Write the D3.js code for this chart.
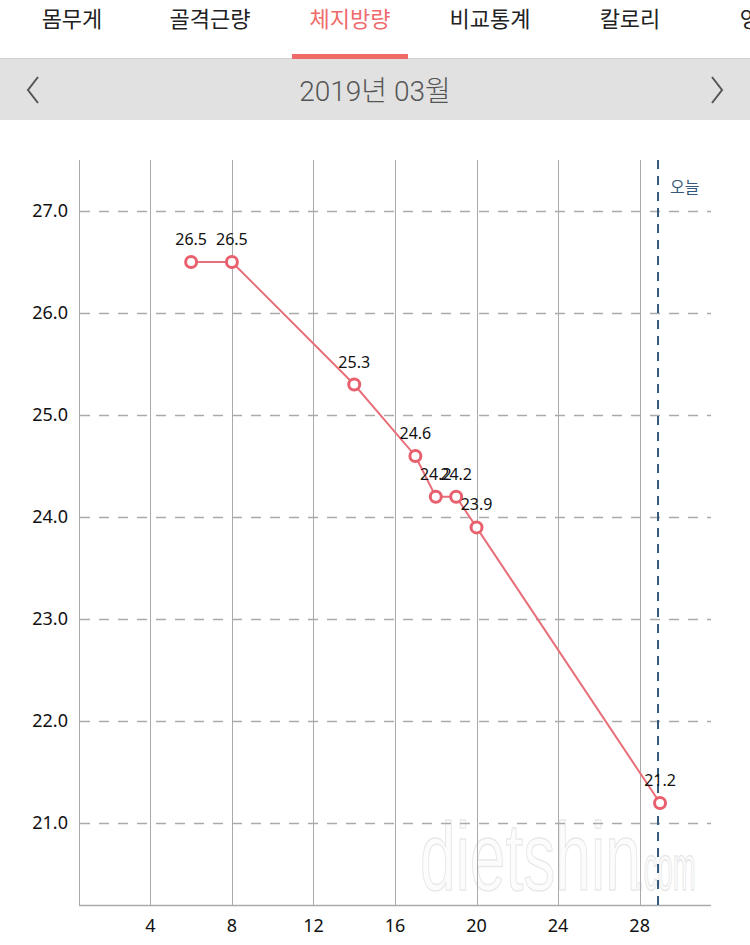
<!DOCTYPE html>
<html><head><meta charset="utf-8">
<script src="https://cdn.jsdelivr.net/npm/d3@7"></script>
<style>
html,body{margin:0;padding:0;background:#fff;}
svg{display:block;font-family:"Noto Sans CJK KR","Noto Sans",sans-serif;}
</style></head>
<body>
<script>
const tabs = ["몸무게","골격근량","체지방량","비교통계","칼로리","영양"];
const tabX = [72, 210, 350, 490, 630, 760];
const activeTab = 2;
const monthLabel = "2019년 03월";
const days = [6, 8, 14, 17, 18, 19, 20, 29];
const values = [26.5, 26.5, 25.3, 24.6, 24.2, 24.2, 23.9, 21.2];
const xTicks = [4, 8, 12, 16, 20, 24, 28];
const yTicks = [21.0, 22.0, 23.0, 24.0, 25.0, 26.0, 27.0];
const todayDay = 29;
const todayLabel = "오늘";

const W = 750, H = 945;
const svg = d3.select("body").append("svg").attr("width", W).attr("height", H);

// header
svg.append("rect").attr("x",0).attr("y",0).attr("width",W).attr("height",58).attr("fill","#fff");
svg.append("rect").attr("x",0).attr("y",58).attr("width",W).attr("height",62).attr("fill","#e1e1e1");
svg.append("line").attr("x1",0).attr("x2",W).attr("y1",58.5).attr("y2",58.5).attr("stroke","#cfcfcf");
svg.selectAll("text.tab").data(tabs).join("text").attr("class","tab")
  .attr("x",(d,i)=>tabX[i]).attr("y",27).attr("text-anchor","middle")
  .attr("font-size",22).attr("fill",(d,i)=>i===activeTab?"#ef6b6b":"#222").text(d=>d);
svg.append("rect").attr("x",292).attr("y",54).attr("width",116).attr("height",5).attr("fill","#f06a6a");
svg.append("text").attr("x",375).attr("y",101).attr("text-anchor","middle")
  .attr("font-size",28).attr("fill","#555").attr("font-family","Roboto, 'Noto Sans CJK KR', sans-serif")
  .style("font-weight",300).text(monthLabel);
svg.append("path").attr("d","M38,77 L28,90 L38,103").attr("fill","none").attr("stroke","#555").attr("stroke-width",2);
svg.append("path").attr("d","M712,77 L722,90 L712,103").attr("fill","none").attr("stroke","#555").attr("stroke-width",2);

// chart
const x = d3.scaleLinear().domain([0.5, 31.5]).range([79, 711]);
const y = d3.scaleLinear().domain([20.2, 27.5]).range([905, 160]);
const g = svg.append("g");

// watermark
g.append("text").attr("transform","translate(420,890) scale(0.89,1.35)").attr("font-size",72)
  .attr("font-family","'Liberation Sans',sans-serif")
  .attr("fill","#fcfcfc").attr("stroke","#e8e8e8").attr("stroke-width",1).text("dietshin");
g.append("text").attr("transform","translate(636,890) scale(0.69,1.6)").attr("font-size",40)
  .attr("font-family","'Liberation Sans',sans-serif")
  .attr("fill","#fcfcfc").attr("stroke","#e8e8e8").attr("stroke-width",1).text(".com");

// vertical grid
g.selectAll("line.vg").data(xTicks).join("line").attr("class","vg")
  .attr("x1",d=>Math.round(x(d))+0.5).attr("x2",d=>Math.round(x(d))+0.5)
  .attr("y1",y(27.5)).attr("y2",y(20.2)).attr("stroke","#aaa").attr("stroke-width",1);
// left axis line
g.append("line").attr("x1",79.5).attr("x2",79.5).attr("y1",y(27.5)).attr("y2",y(20.2)).attr("stroke","#aaa");
// bottom axis
g.append("line").attr("x1",79).attr("x2",711).attr("y1",905.5).attr("y2",905.5).attr("stroke","#aaa").attr("stroke-width",1.5);
// horizontal dashed grid
g.selectAll("line.hg").data(yTicks).join("line").attr("class","hg")
  .attr("x1",80).attr("x2",711).attr("y1",d=>Math.round(y(d))+0.5).attr("y2",d=>Math.round(y(d))+0.5)
  .attr("stroke","#aaa").attr("stroke-width",1.3).attr("stroke-dasharray","10,9");

// y labels
g.selectAll("text.yl").data(yTicks).join("text").attr("class","yl")
  .attr("x",68).attr("y",d=>y(d)+6).attr("text-anchor","end").attr("font-size",18)
  .attr("font-family","'Noto Sans',sans-serif").attr("fill","#111").text(d=>d.toFixed(1));
// x labels
g.selectAll("text.xl").data(xTicks).join("text").attr("class","xl")
  .attr("x",d=>x(d)).attr("y",932).attr("text-anchor","middle").attr("font-size",18)
  .attr("font-family","'Noto Sans',sans-serif").attr("fill","#111").text(d=>d);

// today line
const tx = x(todayDay) - 2;
g.append("line").attr("x1",tx).attr("x2",tx).attr("y1",y(27.5)).attr("y2",y(20.2))
  .attr("stroke","#35587a").attr("stroke-width",2).attr("stroke-dasharray","9,7");
g.append("text").attr("x",tx+12).attr("y",193).attr("font-size",16).attr("fill","#35587a").text(todayLabel);

// data line
const pts = days.map((d,i)=>({d, v: values[i]}));
const line = d3.line().x(p=>x(p.d)).y(p=>y(p.v));
g.append("path").datum(pts).attr("d",line).attr("fill","none").attr("stroke","#e86f79").attr("stroke-width",2);
g.selectAll("circle.pt").data(pts).join("circle").attr("class","pt")
  .attr("cx",p=>x(p.d)).attr("cy",p=>y(p.v)).attr("r",5.5)
  .attr("fill","#fff").attr("stroke","#e8606e").attr("stroke-width",3);
g.selectAll("text.vl").data(pts).join("text").attr("class","vl")
  .attr("x",p=>x(p.d)).attr("y",p=>y(p.v)-17).attr("text-anchor","middle").attr("font-size",16)
  .attr("font-family","'Noto Sans',sans-serif").attr("fill","#111").text(p=>p.v.toFixed(1));
</script>
</body></html>
